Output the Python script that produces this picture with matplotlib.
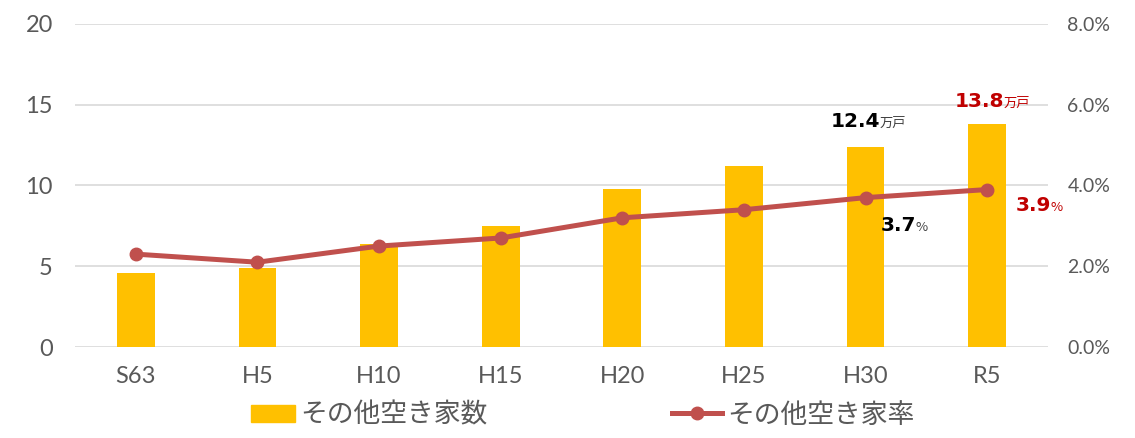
import matplotlib.pyplot as plt
from matplotlib.patches import Patch
from matplotlib.lines import Line2D

plt.rcParams['font.family'] = ['Lato', 'Noto Sans CJK JP', 'DejaVu Sans']

# データ
years = ['S63', 'H5', 'H10', 'H15', 'H20', 'H25', 'H30', 'R5']
houses = [4.6, 4.9, 6.4, 7.5, 9.8, 11.2, 12.4, 13.8]   # その他空き家数(万戸)
rates = [2.3, 2.1, 2.5, 2.7, 3.2, 3.4, 3.7, 3.9]       # その他空き家率(%)

bar_color = '#FFC000'
line_color = '#C0504D'
gray = '#595959'
red = '#C00000'

fig = plt.figure(figsize=(11.35, 4.38), dpi=100)
ax1 = fig.add_axes([75 / 1135, 91 / 438, 973 / 1135, 323 / 438])
ax2 = ax1.twinx()

x = list(range(len(years)))
ax1.bar(x, houses, width=0.31, color=bar_color, zorder=2)
ax1.set_xlim(-0.5, len(years) - 0.5)
ax1.set_ylim(0, 20)
ax1.set_yticks([0, 5, 10, 15, 20])
ax1.set_xticks(x)
ax1.set_xticklabels(years)
ax1.set_axisbelow(True)
ax1.grid(axis='y', color='#D9D9D9', lw=1.2)
ax1.tick_params(axis='y', length=0, pad=16, labelsize=17, labelcolor=gray)
ax1.tick_params(axis='x', length=0, pad=14, labelsize=17, labelcolor=gray)

ax2.plot(x, rates, color=line_color, lw=3.6, marker='o', markersize=9, zorder=3)
ax2.set_ylim(0, 8)
ax2.set_yticks([0, 2, 4, 6, 8])
ax2.set_yticklabels([f'{v:.1f}%' for v in [0, 2, 4, 6, 8]])
ax2.tick_params(axis='y', length=0, pad=14, labelsize=14, labelcolor=gray)

for ax in (ax1, ax2):
    for s in ax.spines.values():
        s.set_visible(False)

px = 72 / 100  # ピクセル→ポイント

def label(ax, i, val, num, unit, color, unit_color, dx, dy):
    ax.annotate(num, (i, val), xytext=(dx * px, dy * px), textcoords='offset points',
                ha='right', va='baseline', fontsize=14.5, fontweight='bold',
                color=color, family='DejaVu Sans')
    ax.annotate(unit, (i, val), xytext=(dx * px - 0.5, dy * px), textcoords='offset points',
                ha='left', va='baseline', fontsize=9.5, color=unit_color,
                family=['Noto Sans CJK JP', 'DejaVu Sans'])

label(ax1, 6, houses[6], f'{houses[6]}', '万戸', 'black', '#404040', 15, 20)
label(ax1, 7, houses[7], f'{houses[7]}', '万戸', red, red, 17, 17)
label(ax2, 6, rates[6], f'{rates[6]}', '%', 'black', '#404040', 51, -33)
label(ax2, 7, rates[7], f'{rates[7]}', '%', red, red, 64, -21)

leg_font = {'family': ['Noto Sans CJK JP', 'DejaVu Sans'], 'size': 19.3}
h1 = Patch(color=bar_color)
h2 = Line2D([], [], color=line_color, lw=3.6, marker='o', markersize=9)
fig.legend([h1], ['その他空き家数'], loc='center left', bbox_to_anchor=(251 / 1135, 0.052),
           frameon=False, borderpad=0, borderaxespad=0, handlelength=1.64, handleheight=0.6,
           handletextpad=0.2, prop=leg_font, labelcolor=gray)
fig.legend([h2], ['その他空き家率'], loc='center left', bbox_to_anchor=(672 / 1135, 0.052),
           frameon=False, borderpad=0, borderaxespad=0, handlelength=1.87,
           handletextpad=0.2, prop=leg_font, labelcolor=gray)

fig.savefig('out.png', dpi=100)
